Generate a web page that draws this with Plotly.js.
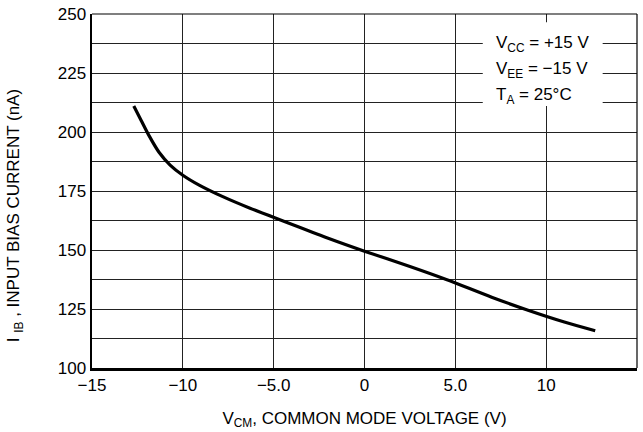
<!DOCTYPE html>
<html>
<head>
<meta charset="utf-8">
<script src="https://cdn.plot.ly/plotly-3.0.1.min.js"></script>
<style>html,body{margin:0;padding:0;background:#fff;}#chart{width:643px;height:432px;}</style>
</head>
<body>
<div id="chart"></div>
<script>
const vcm = [-12.7, -12.3, -11.9, -11.3, -10.7, -10.0, -9.1, -7.8, -6.3, -4.3, -2, 0, 2.5, 4.5, 7, 9, 11, 12.7];
const iib = [211, 205, 199, 191.3, 186, 181.7, 177.5, 172.6, 167.7, 161.8, 155, 149.5, 143, 137.5, 130, 124.5, 119.5, 115.8];
const xTickVals = [-15, -10, -5, 0, 5, 10, 15];
const xTickText = ['\u221215', '\u221210', '\u22125.0', '0', '5.0', '10', '15'];
const yTickVals = [100, 125, 150, 175, 200, 225, 250];
const condLines = ['V<sub>CC</sub> = +15 V', 'V<sub>EE</sub> = \u221215 V', 'T<sub>A</sub> = 25\u00B0C'];
const xTitle = 'V<sub>CM</sub>, COMMON MODE VOLTAGE (V)';
const yTitle = 'I <sub>IB</sub> , INPUT BIAS CURRENT (nA)';

const FONT = '"Liberation Sans", Arial, Helvetica, sans-serif';

const trace = {
  x: vcm, y: iib, type: 'scatter', mode: 'lines',
  line: {color: '#000', width: 3.2, shape: 'spline', smoothing: 0.8},
  hoverinfo: 'skip', showlegend: false
};

const annotations = condLines.map((t, i) => ({
  xref: 'paper', yref: 'paper', x: 0.738, y: 0.915 - i * 0.073,
  xanchor: 'left', yanchor: 'middle', showarrow: false, align: 'left',
  text: t, font: {family: FONT, size: 17, color: '#000'}
}));
annotations.push({
  xref: 'paper', yref: 'paper', x: -0.141, y: 0.429,
  xanchor: 'center', yanchor: 'middle', showarrow: false, textangle: -90,
  text: yTitle, font: {family: FONT, size: 17, color: '#000'}
});

const layout = {
  width: 643, height: 432,
  margin: {l: 92, r: 6, t: 14, b: 64},
  paper_bgcolor: '#fff', plot_bgcolor: '#fff',
  font: {family: FONT, size: 16, color: '#000'},
  xaxis: {
    range: [-15, 15], tickvals: xTickVals, ticktext: xTickText,
    showgrid: true, gridcolor: '#222', gridwidth: 1,
    showline: true, linecolor: '#000', linewidth: 2.5, zeroline: false,
    ticks: '', tickfont: {family: FONT, size: 17, color: '#000'},
    title: {text: xTitle, font: {family: FONT, size: 17, color: '#000'}, standoff: 18}
  },
  yaxis: {
    range: [100, 250], tickvals: yTickVals,
    showgrid: true, gridcolor: '#222', gridwidth: 1,
    minor: {dtick: 12.5, tick0: 100, showgrid: true, gridcolor: '#222', gridwidth: 1, ticks: ''},
    showline: true, linecolor: '#000', linewidth: 2.5, zeroline: false,
    ticks: '', tickfont: {family: FONT, size: 17, color: '#000'}
  },
  shapes: [
    {type: 'rect', xref: 'paper', yref: 'paper', x0: 0.717, x1: 0.937, y0: 0.74, y1: 0.977,
     fillcolor: '#fff', line: {width: 0}, layer: 'above'},
    {type: 'line', xref: 'paper', yref: 'paper', x0: 0, x1: 1, y0: 1, y1: 1, line: {color: '#000', width: 1.2}},
    {type: 'line', xref: 'paper', yref: 'paper', x0: 1, x1: 1, y0: 0, y1: 1, line: {color: '#000', width: 1.2}}
  ],
  annotations: annotations
};

Plotly.newPlot('chart', [trace], layout, {staticPlot: true, displayModeBar: false});
</script>
</body>
</html>
